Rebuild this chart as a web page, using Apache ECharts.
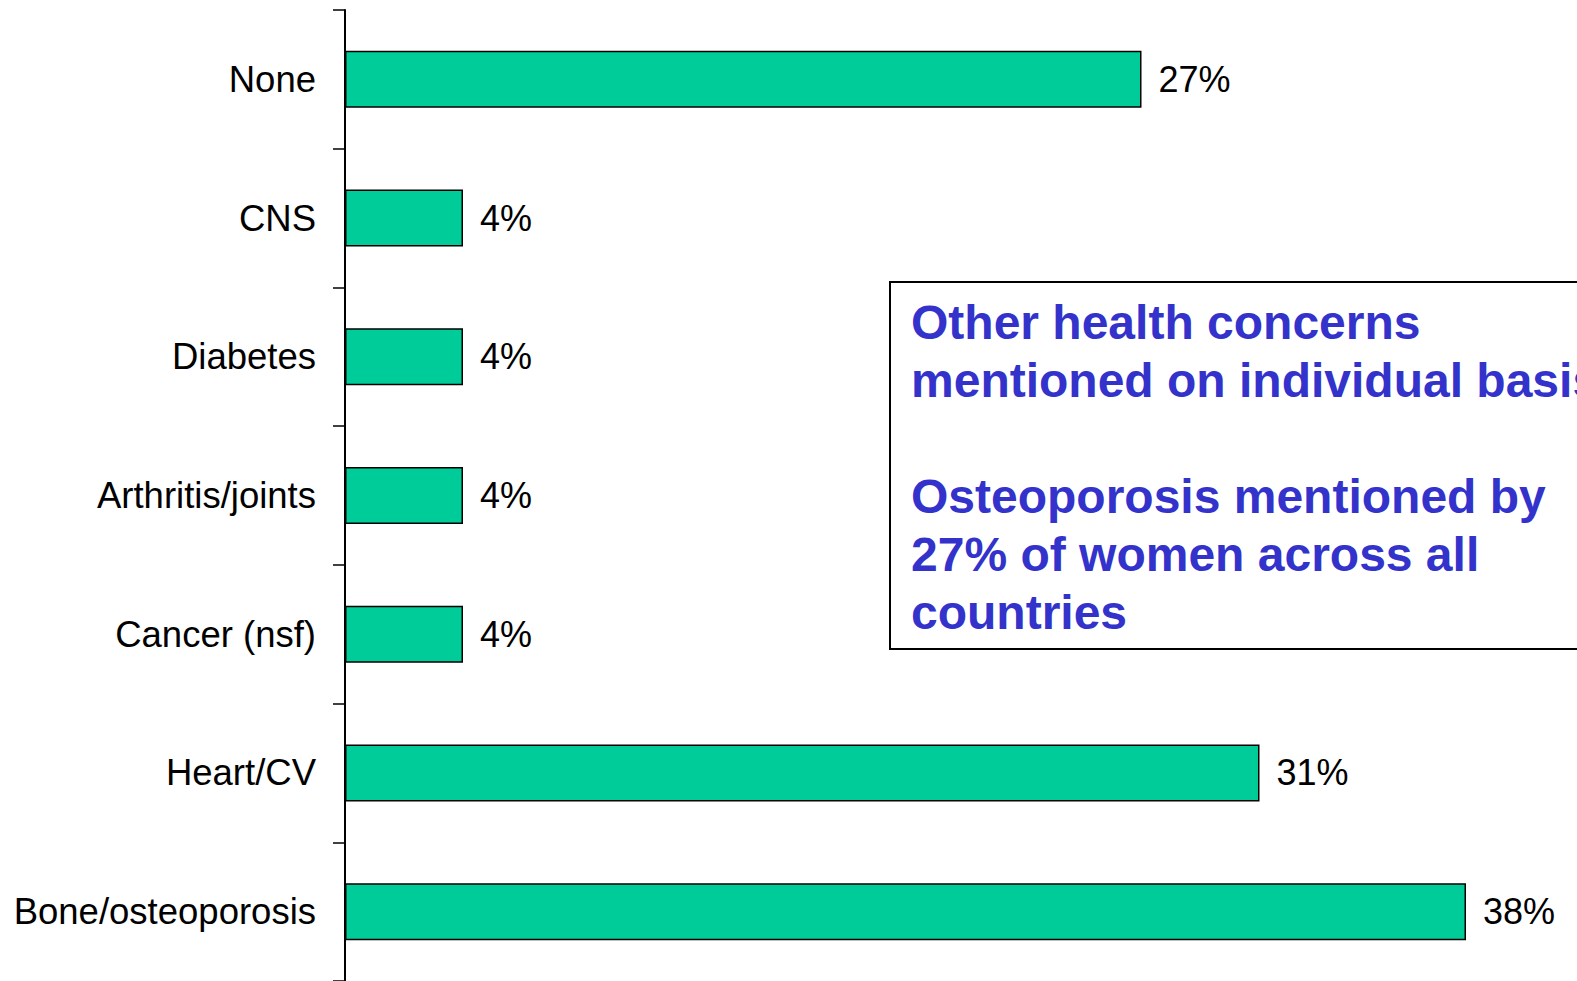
<!DOCTYPE html>
<html>
<head>
<meta charset="utf-8">
<title>Health concerns</title>
<script src="https://cdn.jsdelivr.net/npm/echarts@6/dist/echarts.min.js"></script>
<style>
  html, body { margin: 0; padding: 0; background: #fff; }
  #chart { width: 1577px; height: 981px; }
</style>
</head>
<body>
<div id="chart"></div>
<script>
// data
var categories = ["None", "CNS", "Diabetes", "Arthritis/joints", "Cancer (nsf)", "Heart/CV", "Bone/osteoporosis"];
var values = [27, 4, 4, 4, 4, 31, 38];
var noteLines = [
  "Other health concerns",
  "mentioned on individual basis",
  "",
  "Osteoporosis mentioned by",
  "27% of women across all",
  "countries"
];

var machart = echarts.init(document.getElementById("chart"), null, { renderer: "svg" });

var option = {
  backgroundColor: "#ffffff",
  animation: false,
  grid: {
    left: 345,
    top: 10,
    width: 1180,
    height: 972,
    containLabel: false,
  },
  xAxis: {
    type: "value",
    min: 0,
    max: 40,
    show: false,
  },
  yAxis: {
    type: "category",
    data: categories,
    inverse: true,
    axisLine: {
      lineStyle: { color: "#000", width: 2 },
    },
    axisTick: {
      show: true,
      length: 12,
      lineStyle: { color: "#000", width: 1.5 },
    },
    axisLabel: {
      margin: 29,
      color: "#000",
      fontSize: 36.5,
      fontFamily: "Liberation Sans, Arial, sans-serif",
    },
    splitLine: { show: false },
  },
  series: [
    {
      type: "bar",
      data: values,
      barWidth: 57,
      itemStyle: {
        color: "#00CC99",
        borderColor: "#000",
        borderWidth: 1.5,
      },
      label: {
        show: true,
        position: "right",
        distance: 17,
        formatter: "{c}%",
        color: "#000",
        fontSize: 36,
        fontFamily: "Liberation Sans, Arial, sans-serif",
      },
    },
  ],
  // note box on the right (cut off by the right edge, as in the original)
  graphic: [
    {
      type: "rect",
      left: 889,
      top: 281,
      shape: { width: 800, height: 367 },
      style: { fill: "#fff", stroke: "#000", lineWidth: 2 },
      z: 10,
    },
    {
      type: "text",
      left: 911,
      top: 293,
      style: {
        text: noteLines.join("\n"),
        fill: "#3333CC",
        font: "bold 48px 'Liberation Sans', Arial, sans-serif",
        lineHeight: 58,
      },
      z: 11,
    },
  ],
};
machart.setOption(option);
window.addEventListener("resize", function () {
  machart.resize();
});
</script>
</body>
</html>
